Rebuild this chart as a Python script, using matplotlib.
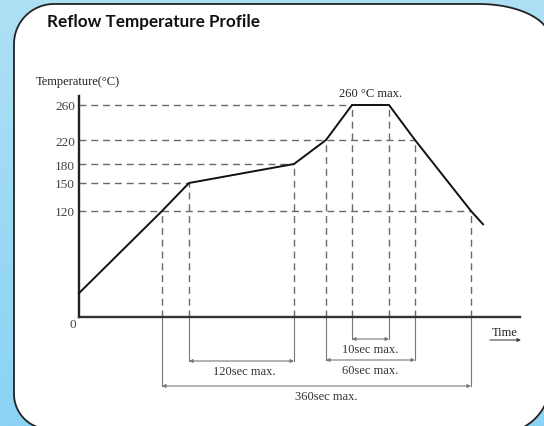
import numpy as np
import matplotlib
matplotlib.use("Agg")
import matplotlib.pyplot as plt
from matplotlib.patches import Polygon

# ---------------- data (schematic profile) ----------------
time_pts = [0, 83, 110, 215, 247, 273, 310, 336, 392, 404]     # schematic time
temp_pts = [27, 120, 150, 180, 220, 260, 260, 220, 120, 105]   # deg C

ytick_vals = [120, 150, 180, 220, 260]
ytick_labels = ["120", "150", "180", "220", "260"]

# horizontal guide: level -> time where it ends
hguide_levels = [260, 220, 180, 150, 120]
hguide_ends = [273, 336, 215, 110, 392]

# vertical guides: (time, temperature)
vguide_times = [83, 110, 215, 247, 273, 310, 336, 392]
vguide_temps = [120, 150, 180, 220, 260, 260, 220, 120]

# dimension annotations
dim_labels = ["10sec max.", "60sec max.", "120sec max.", "360sec max."]
dim_start = [273, 247, 110, 83]
dim_end = [310, 336, 215, 392]
dim_level = [-22, -43, -44, -69]
dim_label_shift = [0, 0, 3, 10]

title = "Reflow Temperature Profile"

# ---------------- schematic (non-linear) temperature scale ----------------
temps_k = [-500, 0, 120, 150, 180, 220, 260, 760]
pos_k = [-500, 0, 106, 134, 153, 177, 212, 712]


def fwd(t):
    return np.interp(t, temps_k, pos_k)


def inv(p):
    return np.interp(p, pos_k, temps_k)


W, H = 544, 427
fig = plt.figure(figsize=(W / 100, H / 100), dpi=100)

# ---------------- background & panel ----------------
bg = fig.add_axes([0, 0, 1, 1])
bg.set_xlim(0, W)
bg.set_ylim(H, 0)
bg.axis("off")
grad = np.linspace(0, 1, 256)[:, None]
cmap = matplotlib.colors.LinearSegmentedColormap.from_list("bgc", ["#aee0f5", "#8ad3f4"])
bg.imshow(grad, extent=[0, W, H, 0], aspect="auto", cmap=cmap, zorder=0)


def arc(cx, cy, rx, ry, a0, a1, n=50):
    a = np.radians(np.linspace(a0, a1, n))
    return np.column_stack([cx + rx * np.cos(a), cy + ry * np.sin(a)])


pts = []
pts.append(arc(54, 45, 40, 40, 180, 270))          # top-left
pts.append(arc(479, 40, 71, 35, 270, 360))         # top-right
pts.append(arc(500, 384, 50, 50, 0, 90))           # bottom-right
pts.append(arc(49, 395, 35, 35, 90, 180))          # bottom-left
panel = Polygon(np.vstack(pts), closed=True, facecolor="white",
                edgecolor="#222222", lw=1.3, zorder=1)
bg.add_patch(panel)

bg.text(47, 22, title, fontsize=12.3, fontweight="bold", family="Lato",
        color="#111111", va="center", ha="left", zorder=2)

# ---------------- main diagram axes ----------------
ax = fig.add_axes([0, 0, 1, 1])
ax.patch.set_alpha(0)
ax.set_yscale("function", functions=(fwd, inv))
ax.set_xlim(-79, W - 79)
ax.set_ylim(inv(318 - H), inv(318))

serif = "Liberation Serif"
guide_col = "#6a6a6a"

for sp in ["top", "right"]:
    ax.spines[sp].set_visible(False)
ax.spines["left"].set_position(("data", 0))
ax.spines["bottom"].set_position(("data", 0))
ax.spines["left"].set_bounds(0, inv(221))
ax.spines["bottom"].set_bounds(0, 441)
ax.spines["left"].set_linewidth(1.7)
ax.spines["bottom"].set_linewidth(1.7)
ax.spines["left"].set_color("#222222")
ax.spines["bottom"].set_color("#333333")
ax.set_xticks([])
ax.set_yticks(ytick_vals)
ax.set_yticklabels(ytick_labels, family=serif, fontsize=9.5, color="#444444")
ax.tick_params(axis="y", length=0, pad=3)
ax.yaxis.set_minor_locator(matplotlib.ticker.NullLocator())

ax.annotate("0", xy=(0, 0), xytext=(-4.5, -5), textcoords="offset points",
            ha="center", va="center", family=serif, fontsize=9.5, color="#444444")

# horizontal dashed guides
for lvl, xe in zip(hguide_levels, hguide_ends):
    ax.plot([0, xe], [lvl, lvl], color=guide_col, lw=1.0, ls=(0, (5, 3.5)), zorder=2)

# vertical dashed guides
for t, lvl in zip(vguide_times, vguide_temps):
    ax.plot([t, t], [0, lvl], color=guide_col, lw=1.0, ls=(0, (5, 3.5)), zorder=2)

# dimension lines below axis
dim_col = "#777777"
for lab, a, b, lv, sh in zip(dim_labels, dim_start, dim_end, dim_level, dim_label_shift):
    ax.plot([a, a], [0, lv], color=dim_col, lw=0.8, clip_on=False)
    ax.plot([b, b], [0, lv], color=dim_col, lw=0.8, clip_on=False)
    ax.annotate("", xy=(a, lv), xytext=(b, lv),
                arrowprops=dict(arrowstyle="<|-|>", color=dim_col, lw=0.8,
                                mutation_scale=5, shrinkA=0, shrinkB=0))
    ax.annotate(lab, xy=((a + b) / 2 + sh, lv), xytext=(0, -7.5), textcoords="offset points",
                ha="center", va="center", family=serif, fontsize=9, color="#333333")

# profile curve
ax.plot(time_pts, temp_pts, color="#111111", lw=1.4, zorder=3, solid_joinstyle="miter")

# labels
ax.text(36 - 79, inv(318 - 82), "Temperature(°C)", family=serif, fontsize=9,
        ha="left", va="center", color="#222222")
ax.annotate("260 °C max.", xy=((time_pts[5] + time_pts[6]) / 2, 260), xytext=(0, 4),
            textcoords="offset points", ha="center", va="bottom", family=serif,
            fontsize=9, color="#222222")
ax.text(505 - 79, inv(318 - 333), "Time", family=serif, fontsize=9,
        ha="center", va="center", color="#222222")
ax.annotate("", xy=(521 - 79, inv(318 - 341)), xytext=(490 - 79, inv(318 - 341)),
            arrowprops=dict(arrowstyle="-|>", color="#444444", lw=0.8,
                            mutation_scale=5, shrinkA=0, shrinkB=0))

fig.savefig("out.png", dpi=100)
